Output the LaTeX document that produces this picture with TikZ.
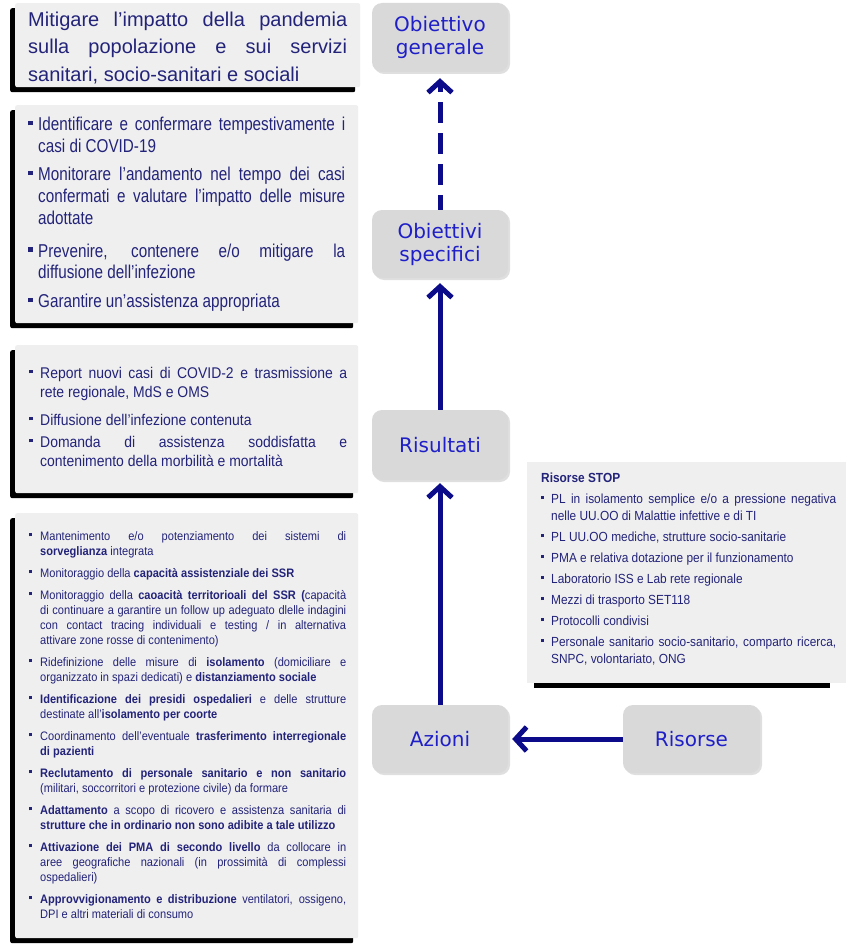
\documentclass[tikz,border=0pt]{standalone}
\usepackage{fontspec}
\setmainfont{Liberation Sans}
\newfontfamily\narrowfont[FakeStretch=0.82]{Liberation Sans}
\newfontfamily\midfont[FakeStretch=0.9]{Liberation Sans}
\newfontfamily\dejavu{DejaVu Sans}
\usetikzlibrary{arrows.meta,shadows}
\definecolor{txtnavy}{HTML}{23237A}
\definecolor{nodeblue}{HTML}{1F1FC8}
\definecolor{arrownavy}{HTML}{0C0C8A}
\definecolor{boxfill}{HTML}{EFEFEF}
\definecolor{nodefill}{HTML}{D9D9D9}
\newlength\bind
\newcommand{\sqbullet}{\rule[0.3em]{0.24em}{0.24em}}
\newcommand{\bitem}[1]{\noindent\hangindent=\bind\hangafter=1\makebox[\bind][l]{\sqbullet}#1\par}
\tolerance=10000
\hyphenpenalty=10000
\exhyphenpenalty=10000
\hbadness=10000
\tikzset{
  leftbox/.style={fill=boxfill, rounded corners=2pt, anchor=north west, inner sep=0pt,
    general shadow={fill=black, shadow xshift=-5pt, shadow yshift=-5pt}},
  lefttext/.style={anchor=base west, inner sep=0pt, align=justify, text=txtnavy},
  rnode/.style={fill=nodefill, rounded corners=10pt, minimum width=136pt, minimum height=68pt,
    text=nodeblue, font={\dejavu\fontsize{20}{23}\selectfont}, align=center,
    drop shadow={shadow xshift=2pt, shadow yshift=-2pt, opacity=0.25}},
  flow/.style={draw=arrownavy, line width=5pt, -{Straight Barb[length=11pt,width=24pt]}}
}
\begin{document}
\begin{tikzpicture}[x=1pt,y=-1pt]
\useasboundingbox (0,0) rectangle (848,944);
\fill[white] (0,0) rectangle (848,944);

% left boxes
\node[leftbox, minimum width=345pt, minimum height=84pt] (b1) at (15,3) {};
\node[lefttext, text width=319pt, font={\fontsize{20}{27.5}\selectfont}] (t1) at (28,26.5)
{Mitigare l’impatto della pandemia\linebreak sulla popolazione e sui servizi\linebreak sanitari, socio-sanitari e sociali};

\node[leftbox, minimum width=343pt, minimum height=218pt] (b2) at (15,105) {};
\node[lefttext, text width=317pt, font={\narrowfont\fontsize{18.6}{21.7}\selectfont}] (t2) at (28,131)
{\setlength\bind{10pt}%
\bitem{Identificare e confermare tempestivamente i\linebreak casi di COVID-19}
\vspace{6.3pt}
\bitem{Monitorare l’andamento nel tempo dei casi\linebreak confermati e valutare l’impatto delle misure\linebreak adottate}
\vspace{11.3pt}
\bitem{Prevenire, contenere e/o mitigare la\linebreak diffusione dell’infezione}
\vspace{7.3pt}
\bitem{Garantire un’assistenza appropriata}};

\node[leftbox, minimum width=343pt, minimum height=148pt] (b3) at (15,345) {};
\node[lefttext, text width=318pt, font={\midfont\fontsize{15.5}{19}\selectfont}] (t3) at (29,378)
{\setlength\bind{11pt}%
\bitem{Report nuovi casi di COVID-2 e trasmissione a\linebreak rete regionale, MdS e OMS}
\vspace{9pt}
\bitem{Diffusione dell’infezione contenuta}
\vspace{3pt}
\bitem{Domanda di assistenza soddisfatta e\linebreak contenimento della morbilità e mortalità}};

\node[leftbox, minimum width=343pt, minimum height=425pt] (b4) at (15,513) {};
\node[lefttext, text width=317pt, font={\midfont\fontsize{12.3}{15}\selectfont}] (t4) at (29,540)
{\setlength\bind{11pt}%
\bitem{Mantenimento e/o potenziamento dei sistemi di\linebreak \textbf{sorveglianza} integrata}
\vspace{7pt}
\bitem{Monitoraggio della \textbf{capacità assistenziale dei SSR}}
\vspace{7pt}
\bitem{Monitoraggio della \textbf{caoacità territorioali del SSR (}capacità\linebreak di continuare a garantire un follow up adeguato dlelle indagini\linebreak con contact tracing individuali e testing / in alternativa\linebreak attivare zone rosse di contenimento)}
\vspace{7pt}
\bitem{Ridefinizione delle misure di \textbf{isolamento} (domiciliare e\linebreak organizzato in spazi dedicati) e \textbf{distanziamento sociale}}
\vspace{7pt}
\bitem{\textbf{Identificazione dei presidi ospedalieri} e delle strutture\linebreak destinate all’\textbf{isolamento per coorte}}
\vspace{7pt}
\bitem{Coordinamento dell’eventuale \textbf{trasferimento interregionale}\linebreak \textbf{di pazienti}}
\vspace{7pt}
\bitem{\textbf{Reclutamento di personale sanitario e non sanitario}\linebreak (militari, soccorritori e protezione civile) da formare}
\vspace{7pt}
\bitem{\textbf{Adattamento} a scopo di ricovero e assistenza sanitaria di\linebreak \textbf{strutture che in ordinario non sono adibite a tale utilizzo}}
\vspace{7pt}
\bitem{\textbf{Attivazione dei PMA di secondo livello} da collocare in\linebreak aree geografiche nazionali (in prossimità di complessi\linebreak ospedalieri)}
\vspace{7pt}
\bitem{\textbf{Approvvigionamento e distribuzione} ventilatori, ossigeno,\linebreak DPI e altri materiali di consumo}};

% Risorse STOP box
\node[fill=boxfill, anchor=north west, inner sep=0pt, minimum width=319pt, minimum height=221pt,
  general shadow={fill=black, shadow scale=0.93, shadow xshift=-5pt, shadow yshift=-14pt}] (stop) at (527,462) {};
\node[lefttext, text width=295pt, font={\midfont\fontsize{13.2}{17}\selectfont}] (tstop) at (541,482)
{\setlength\bind{10pt}%
\textbf{Risorse STOP}\par
\vspace{4pt}
\bitem{PL in isolamento semplice e/o a pressione negativa\linebreak nelle UU.OO di Malattie infettive e di TI}
\vspace{4pt}
\bitem{PL UU.OO mediche, strutture socio-sanitarie}
\vspace{4pt}
\bitem{PMA e relativa dotazione per il funzionamento}
\vspace{4pt}
\bitem{Laboratorio ISS e Lab rete regionale}
\vspace{4pt}
\bitem{Mezzi di trasporto SET118}
\vspace{4pt}
\bitem{Protocolli condivisi}
\vspace{4pt}
\bitem{Personale sanitario socio-sanitario, comparto ricerca,\linebreak SNPC, volontariato, ONG}};

% right column
\node[rnode, minimum height=69pt] (gen) at (440,37.5) {Obiettivo\\generale};
\node[rnode] (spec) at (440,244) {Obiettivi\\specifici};
\node[rnode, minimum height=70pt] (ris) at (440,445) {Risultati};
\node[rnode] (azi) at (440,739) {Azioni};
\node[rnode, minimum width=137pt] (riso) at (691.5,739) {Risorse};

\draw[flow, dash pattern=on 21pt off 10pt, dash phase=6pt, shorten >=6pt] (spec) -- (gen);
\draw[flow, shorten >=5pt] (ris) -- (spec);
\draw[flow, shorten >=3pt] (azi) -- (ris);
\draw[flow, shorten >=4pt] (riso) -- (azi);
\end{tikzpicture}
\end{document}
